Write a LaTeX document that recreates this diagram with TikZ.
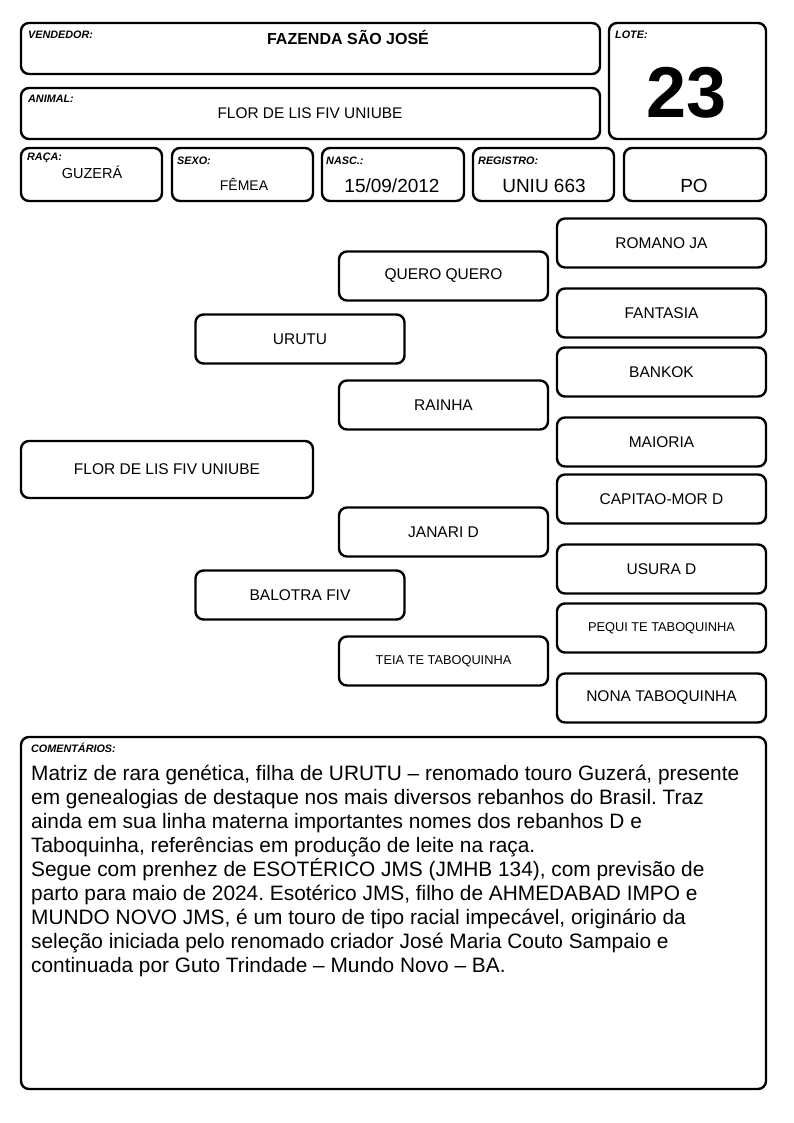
\documentclass[tikz,border=0pt]{standalone}
\usepackage{fontspec}
\setmainfont{Liberation Sans}
\frenchspacing
\begin{document}
\begin{tikzpicture}[x=1pt,y=-1pt,
  box/.style={draw=black,line width=2.4pt,rounded corners=8pt,inner sep=0pt,align=center},
  ped/.style={box,minimum width=209pt,minimum height=49pt,font=\fontsize{15.5}{17}\selectfont},
  lbl/.style={anchor=west,inner sep=0pt,font=\fontsize{10.8}{12}\selectfont\bfseries\itshape},
  val/.style={inner sep=0pt,font=\fontsize{15}{17}\selectfont},
  bigval/.style={inner sep=0pt,font=\fontsize{19}{21}\selectfont}]
\useasboundingbox (0,0) rectangle (794,1123);
% header
\node[box,minimum width=579pt,minimum height=51pt] (vend) at (310.5,48.5) {};
\node[lbl] (vendl) at (28,35) {VENDEDOR:};
\node[inner sep=0pt,font=\fontsize{16}{18}\selectfont\bfseries] (vendv) at (348,37) {FAZENDA SÃO JOSÉ};
\node[box,minimum width=157pt,minimum height=116pt] (lote) at (687.5,81) {};
\node[lbl] (lotel) at (615,35) {LOTE:};
\node[inner sep=0pt,font=\fontsize{72}{78}\selectfont\bfseries] (lotev) at (687,93) {23};
\node[box,minimum width=579pt,minimum height=51pt] (anim) at (310.5,113.5) {};
\node[lbl] (animl) at (28,99) {ANIMAL:};
\node[val,font=\fontsize{15.4}{17}\selectfont] (animv) at (310,113) {FLOR DE LIS FIV UNIUBE};
% info row
\node[box,minimum width=141pt,minimum height=53pt] (raca) at (91.5,174.5) {};
\node[lbl] (racal) at (27,158) {RAÇA:};
\node[val,font=\fontsize{14.5}{17}\selectfont] (racav) at (92,172) {GUZERÁ};
\node[box,minimum width=141pt,minimum height=53pt] (sexo) at (242.5,174.5) {};
\node[lbl] (sexol) at (177,161) {SEXO:};
\node[val,font=\fontsize{14}{17}\selectfont] (sexov) at (244,184) {FÊMEA};
\node[box,minimum width=142pt,minimum height=53pt] (nasc) at (393,174.5) {};
\node[lbl] (nascl) at (326,161) {NASC.:};
\node[bigval] (nascv) at (392,186) {15/09/2012};
\node[box,minimum width=141pt,minimum height=53pt] (reg) at (543.5,174.5) {};
\node[lbl] (regl) at (478,161) {REGISTRO:};
\node[bigval] (regv) at (544,186) {UNIU 663};
\node[box,minimum width=142pt,minimum height=53pt] (po) at (695,174.5) {};
\node[bigval] (pov) at (694,186) {PO};
% pedigree
\node[ped] (romano) at (661.5,243) {ROMANO JA};
\node[ped] (quero) at (443.5,276) {QUERO QUERO};
\node[ped] (fantasia) at (661.5,313) {FANTASIA};
\node[ped] (urutu) at (300,339) {URUTU};
\node[ped] (bankok) at (661.5,372) {BANKOK};
\node[ped] (rainha) at (443.5,405) {RAINHA};
\node[ped] (maioria) at (661.5,442) {MAIORIA};
\node[ped,minimum width=292pt,minimum height=57pt] (flor) at (167,469.5) {FLOR DE LIS FIV UNIUBE};
\node[ped] (capitao) at (661.5,499) {CAPITAO-MOR D};
\node[ped] (janari) at (443.5,532) {JANARI D};
\node[ped] (usura) at (661.5,569) {USURA D};
\node[ped] (balotra) at (300,595) {BALOTRA FIV};
\node[ped,font=\fontsize{12.8}{14}\selectfont] (pequi) at (661.5,628) {PEQUI TE TABOQUINHA};
\node[ped,font=\fontsize{12.8}{14}\selectfont] (teia) at (443.5,661) {TEIA TE TABOQUINHA};
\node[ped] (nona) at (661.5,698) {NONA TABOQUINHA};
% comments
\node[box,minimum width=745pt,minimum height=352pt] (coment) at (393.5,913) {};
\node[lbl] (comentl) at (31,748) {COMENTÁRIOS:};
\node[anchor=north west,inner sep=0pt,align=left,font=\fontsize{20.85}{24}\selectfont] (comentv) at (31,765.3) {Matriz de rara genética, filha de URUTU – renomado touro Guzerá, presente\\
em genealogias de destaque nos mais diversos rebanhos do Brasil. Traz\\
ainda em sua linha materna importantes nomes dos rebanhos D e\\
Taboquinha, referências em produção de leite na raça.\\
Segue com prenhez de ESOTÉRICO JMS (JMHB 134), com previsão de\\
parto para maio de 2024. Esotérico JMS, filho de AHMEDABAD IMPO e\\
MUNDO NOVO JMS, é um touro de tipo racial impecável, originário da\\
seleção iniciada pelo renomado criador José Maria Couto Sampaio e\\
continuada por Guto Trindade – Mundo Novo – BA.};
\end{tikzpicture}
\end{document}
